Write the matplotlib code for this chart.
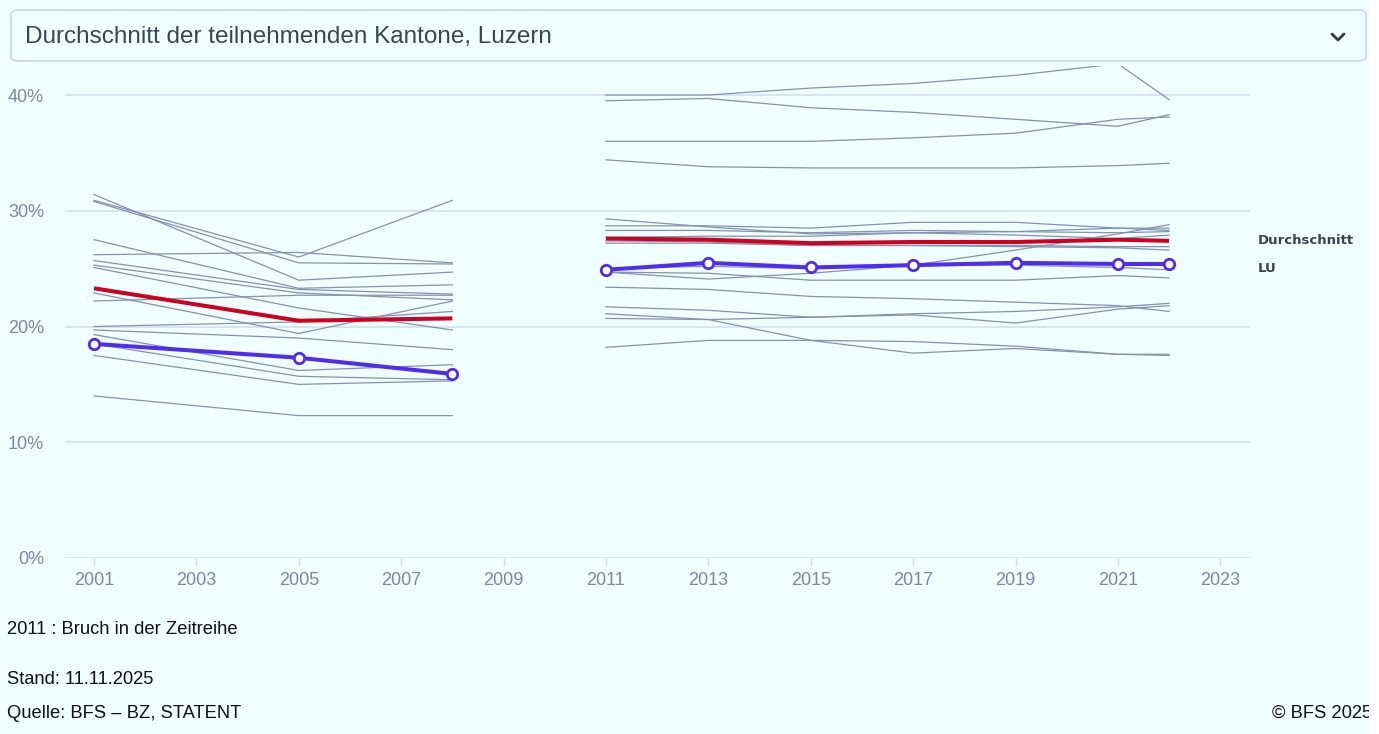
import matplotlib
matplotlib.use("Agg")
import matplotlib.pyplot as plt
from matplotlib.patches import FancyBboxPatch, Rectangle

plt.rcParams['font.family'] = ['Liberation Sans', 'DejaVu Sans']

# ---------------- data ----------------
years_a = [2001, 2005, 2008]
years_b = [2011, 2013, 2015, 2017, 2019, 2021, 2022]

cantons_a = [
    [31.4, 24.0, 24.7],
    [30.9, 26.0, 30.9],
    [30.8, 25.5, 25.4],
    [26.2, 26.4, 25.5],
    [27.5, 23.3, 23.6],
    [25.7, 23.2, 22.8],
    [25.3, 22.9, 22.3],
    [25.1, 21.6, 19.7],
    [22.9, 19.4, 22.2],
    [22.2, 22.7, 22.7],
    [20.0, 20.4, 21.3],
    [19.7, 19.0, 18.0],
    [19.3, 16.2, 16.7],
    [18.5, 15.7, 15.4],
    [17.5, 15.0, 15.3],
    [14.0, 12.3, 12.3],
]
avg_a = [23.3, 20.5, 20.7]
lu_a = [18.5, 17.3, 15.9]

cantons_b = [
    [40.0, 40.0, 40.6, 41.0, 41.7, 42.7, 39.6],
    [39.5, 39.7, 38.9, 38.5, 37.9, 37.3, 38.3],
    [36.0, 36.0, 36.0, 36.3, 36.7, 37.9, 38.1],
    [34.4, 33.8, 33.7, 33.7, 33.7, 33.9, 34.1],
    [29.3, 28.6, 28.0, 28.1, 28.2, 28.5, 28.5],
    [28.7, 28.7, 28.5, 29.0, 29.0, 28.5, 28.3],
    [28.3, 28.3, 28.1, 28.3, 28.2, 28.1, 28.2],
    [27.7, 27.8, 27.8, 28.1, 27.9, 27.6, 27.9],
    [24.7, 24.1, 24.6, 25.3, 26.6, 28.0, 28.8],
    [27.4, 27.3, 27.0, 27.0, 27.0, 26.9, 26.9],
    [27.2, 27.2, 27.0, 27.0, 26.9, 26.8, 26.6],
    [24.7, 24.6, 24.0, 24.0, 24.0, 24.4, 24.2],
    [25.0, 25.2, 25.0, 25.3, 25.3, 25.1, 24.9],
    [23.4, 23.2, 22.6, 22.4, 22.1, 21.8, 21.3],
    [21.7, 21.4, 20.8, 21.1, 21.3, 21.7, 22.0],
    [21.1, 20.6, 20.8, 21.0, 20.3, 21.5, 21.8],
    [20.7, 20.6, 18.8, 17.7, 18.1, 17.6, 17.6],
    [18.2, 18.8, 18.8, 18.7, 18.3, 17.6, 17.5],
]
avg_b = [27.6, 27.5, 27.2, 27.3, 27.3, 27.5, 27.4]
lu_b = [24.9, 25.5, 25.1, 25.3, 25.5, 25.4, 25.4]

x_ticks = list(range(2001, 2024, 2))
y_ticks = [0, 10, 20, 30, 40]
y_labels = ['0%', '10%', '20%', '30%', '40%']

title = "Durchschnitt der teilnehmenden Kantone, Luzern"
legend_labels = ["Durchschnitt", "LU"]
footer_note = "2011 : Bruch in der Zeitreihe"
footer_stand = "Stand: 11.11.2025"
footer_source = "Quelle: BFS – BZ, STATENT"
footer_copy = "© BFS 2025"

# ---------------- styles ----------------
BG = '#effefe'
GRID = '#cddff3'
GRAY = '#8691b2'
RED = '#d0001f'
BLUE = '#4f2cf0'
TICK = '#7d87a8'

W, H = 1379, 734
fig = plt.figure(figsize=(W / 100, H / 100), dpi=100, facecolor=BG)

def fx(px):
    return px / W

def fy(py):
    return 1 - py / H

# white strip at right edge
fig.patches.append(Rectangle((fx(1369), 0), fx(W - 1369), 1,
                             transform=fig.transFigure, facecolor='white',
                             edgecolor='none', zorder=-1))

# header box
box = FancyBboxPatch((fx(11), fy(61)), fx(1366 - 11), (61 - 10) / H,
                     boxstyle="round,pad=0,rounding_size=0.006",
                     transform=fig.transFigure, facecolor=BG,
                     edgecolor='#c4d6ee', linewidth=1.2)
fig.patches.append(box)
fig.text(fx(25), fy(37), title, fontsize=17.5, color='#3a4556',
         va='center', ha='left')
# chevron
cx, cy = 1338, 37
fig.add_artist(plt.Line2D([fx(cx - 6), fx(cx), fx(cx + 6)],
                          [fy(cy - 3), fy(cy + 3), fy(cy - 3)],
                          transform=fig.transFigure, color='#2f3a4a',
                          linewidth=2.0, solid_capstyle='round',
                          solid_joinstyle='round'))

# axes
left, right, top, bottom = 65, 1250, 66, 558
ax = fig.add_axes([fx(left), fy(bottom), fx(right - left), (bottom - top) / H])
ax.set_facecolor(BG)
ax.set_xlim(2000.434, 2023.58)
ax.set_ylim(0, (bottom - top) / 11.575)

for sp in ax.spines.values():
    sp.set_visible(False)

ax.set_yticks(y_ticks)
ax.set_yticklabels(y_labels)
ax.set_xticks(x_ticks)
ax.set_xticklabels([str(t) for t in x_ticks])
ax.tick_params(axis='y', length=0, pad=15, labelsize=13, labelcolor=TICK)
ax.tick_params(axis='x', length=6, width=1, color=GRID, pad=4,
               labelsize=13, labelcolor=TICK)

for v in y_ticks:
    ax.axhline(v, color=GRID, linewidth=1.1, zorder=0)

for row in cantons_a:
    ax.plot(years_a, row, color=GRAY, linewidth=0.9, zorder=2)
for row in cantons_b:
    ax.plot(years_b, row, color=GRAY, linewidth=0.9, zorder=2)

ax.plot(years_a, avg_a, color=RED, linewidth=2.9, zorder=3,
        solid_capstyle='butt')
ax.plot(years_b, avg_b, color=RED, linewidth=2.9, zorder=3,
        solid_capstyle='butt')

mk = dict(color=BLUE, linewidth=2.9, marker='o', markersize=7.5,
          markerfacecolor='white', markeredgecolor=BLUE, markeredgewidth=2.0,
          zorder=4)
ax.plot(years_a, lu_a, **mk)
ax.plot(years_b, lu_b, **mk)

fig.text(fx(1258), fy(241), legend_labels[0], fontsize=9.5, fontweight='bold',
         color='#3c4250', va='center', ha='left', family='DejaVu Sans')
fig.text(fx(1258), fy(268), legend_labels[1], fontsize=9.5, fontweight='bold',
         color='#3c4250', va='center', ha='left', family='DejaVu Sans')

# footer
fig.text(fx(7), fy(629), footer_note, fontsize=13.2, color='#111111',
         va='center', ha='left')
fig.text(fx(7), fy(680), footer_stand, fontsize=13.2, color='#111111',
         va='center', ha='left')
fig.text(fx(7), fy(713), footer_source, fontsize=13.2, color='#111111',
         va='center', ha='left')
fig.text(fx(1372), fy(713), footer_copy, fontsize=13.2, color='#111111',
         va='center', ha='right', zorder=-2)

fig.savefig('out.png', dpi=100, facecolor=BG)
